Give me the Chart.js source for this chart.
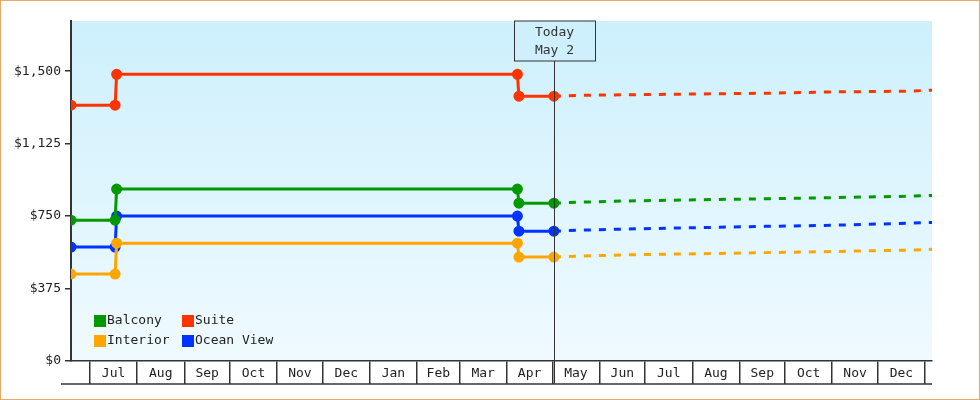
<!DOCTYPE html>
<html><head><meta charset="utf-8">
<script src="https://cdn.jsdelivr.net/npm/chart.js@4"></script>
<style>html,body{margin:0;padding:0;background:#fff}#w{width:978px;height:398px;border:1px solid #e8a868;position:relative}canvas{display:block}</style>
</head><body><div id="w"><canvas id="c" width="978" height="398"></canvas></div>
<script>
const monthStarts=[0,31,62,92,123,153,184,215,243,274,304,335,365,396,427,457,488,518,549];
const monthLabels=['Jul','Aug','Sep','Oct','Nov','Dec','Jan','Feb','Mar','Apr','May','Jun','Jul','Aug','Sep','Oct','Nov','Dec'];
const yTicks=[0,375,750,1125,1500];
const todayDay=305;
const histDays=[-12.5,16.5,17.5,281,282,305];
const foreDays=[305,321,351,444,490,538,554];
const names=['Balcony','Suite','Interior','Ocean View'];
const colors=['#009900','#ff3300','#ffa500','#0033ff'];
const histBalcony=[729,729,890,890,817,817];
const histSuite=[1324,1324,1484,1484,1371,1371];
const histInterior=[450,450,610,610,538,538];
const histOcean=[590,590,750,750,672,672];
const foreBalcony=[817,822,828,840,846,853,857];
const foreSuite=[1371,1375,1378,1386,1393,1397,1402];
const foreInterior=[538,543,549,561,567,574,578];
const foreOcean=[672,677,683,697,703,713,717];
const hist=[histBalcony,histSuite,histInterior,histOcean];
const fore=[foreBalcony,foreSuite,foreInterior,foreOcean];
const FONT='"DejaVu Sans Mono", monospace';
const ds=[];
hist.forEach((h,i)=>{ds.push({label:names[i],data:h.map((v,k)=>({x:histDays[k],y:v})),borderColor:colors[i],backgroundColor:colors[i],borderWidth:3,pointRadius:4,pointHoverRadius:4});});
fore.forEach((f,i)=>{ds.push({label:names[i]+' f',data:f.map((v,k)=>({x:foreDays[k],y:v})),borderColor:colors[i],borderWidth:3,borderDash:[7,8],pointRadius:0});});
const deco={id:'deco',
beforeDraw(c){const a=c.chartArea,x=c.ctx;const g=x.createLinearGradient(0,a.top,0,a.bottom);g.addColorStop(0,'#cdf0fc');g.addColorStop(1,'#f0faff');x.fillStyle=g;x.fillRect(a.left,a.top,a.right-a.left,a.bottom-a.top);},
afterDraw(c){const a=c.chartArea,x=c.ctx,xs=c.scales.x;x.save();x.strokeStyle='#333';x.lineWidth=1.5;
x.beginPath();x.moveTo(a.left-10,a.bottom+23);x.lineTo(a.right,a.bottom+23);x.stroke();
x.fillStyle='#222';x.font='13px '+FONT;x.textAlign='center';x.textBaseline='middle';
for(let i=0;i<monthLabels.length;i++){const cx=(xs.getPixelForValue(monthStarts[i])+xs.getPixelForValue(monthStarts[i+1]))/2;x.fillText(monthLabels[i],cx,a.bottom+13);}
const tx=Math.round(xs.getPixelForValue(todayDay))+0.5;x.lineWidth=1;x.beginPath();x.moveTo(tx,a.top+40);x.lineTo(tx,a.bottom+23);x.stroke();
x.fillStyle='rgba(205,240,252,0.6)';x.fillRect(tx-40,a.top,81,40);x.strokeRect(tx-40,a.top,81,40);
x.fillStyle='#333';x.fillText('Today',tx,a.top+12);x.fillText('May 2',tx,a.top+30);
x.textAlign='left';const lg=[[0,93,320],[1,181,320],[2,93,340],[3,181,340]];
lg.forEach(([i,lx,ly])=>{x.fillStyle=colors[i];x.fillRect(lx,ly-6,12,12);x.fillStyle='#222';x.fillText(names[i],lx+13,ly);});
x.restore();}};
new Chart(document.getElementById('c'),{type:'line',data:{datasets:ds},plugins:[deco],
options:{responsive:false,animation:false,layout:{padding:{top:20,right:47,left:0,bottom:0}},
plugins:{legend:{display:false},tooltip:{enabled:false}},
scales:{
x:{type:'linear',min:-12.5,max:553.6,afterBuildTicks(s){s.ticks=monthStarts.map(v=>({value:v}));},afterFit(s){s.height=38;},
ticks:{display:false},grid:{drawOnChartArea:false,drawTicks:true,tickLength:23,color:'#333',lineWidth:1.5},border:{display:true,color:'#333',width:1.5}},
y:{min:0,max:1760,afterBuildTicks(s){s.ticks=yTicks.map(v=>({value:v}));},afterFit(s){s.width=70;},
ticks:{color:'#222',font:{family:FONT,size:13},padding:4,callback:v=>'$'+v.toLocaleString('en-US')},
grid:{drawOnChartArea:false,tickLength:6,color:'#333',lineWidth:1.5},border:{color:'#333',width:2}}}}});
</script></body></html>
